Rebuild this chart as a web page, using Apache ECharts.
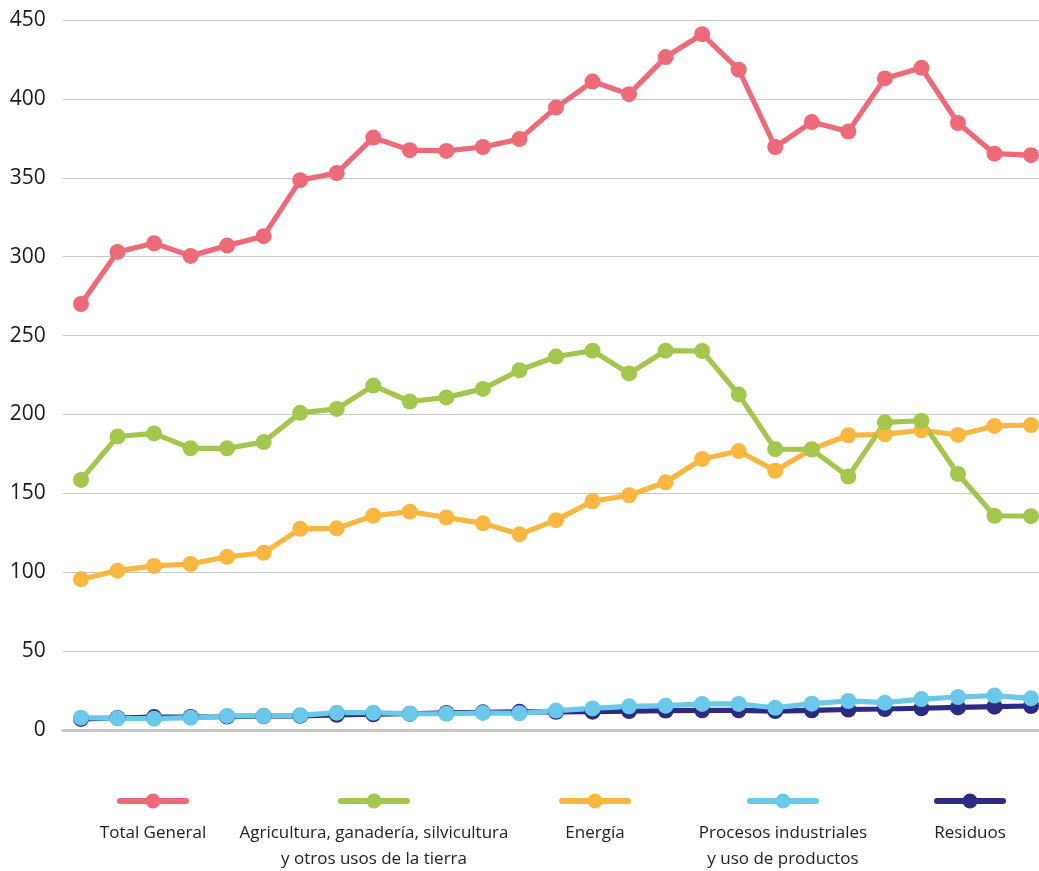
<!DOCTYPE html>
<html>
<head>
<meta charset="utf-8">
<script src="https://cdn.jsdelivr.net/npm/echarts@6/dist/echarts.min.js"></script>
<style>
html,body{margin:0;padding:0;background:#fff;overflow:hidden;}
#chart{width:1050px;height:871px;}
</style>
</head>
<body>
<div id="chart"></div>
<script>
const years = ['1990','1991','1992','1993','1994','1995','1996','1997','1998','1999','2000','2001','2002','2003','2004','2005','2006','2007','2008','2009','2010','2011','2012','2013','2014','2015','2016'];
const totalGeneral = [270, 303, 308.5, 300.5, 307, 313, 348.5, 353, 375.5, 367.5, 367, 369.5, 374.5, 394.5, 411, 403, 426.5, 441, 418.5, 369.5, 385.3, 379.3, 413, 419.7, 384.7, 365.3, 364.3];
const agricultura = [158.5, 186, 188, 178.5, 178.5, 182.5, 201, 203.5, 218.3, 208.2, 210.8, 216.2, 228, 236.7, 240.4, 226, 240.4, 240.2, 212.7, 178, 177.8, 160.6, 195, 196, 162.3, 135.8, 135.5];
const energia = [95.5, 101, 104, 105.2, 109.8, 112.3, 127.5, 127.8, 135.8, 138.4, 134.7, 131, 124, 133, 145, 148.8, 157, 171.8, 176.8, 164.3, 178, 186.8, 187.4, 190, 187, 192.7, 193.3];
const procesos = [7.8, 7.4, 7.2, 7.8, 8.9, 8.9, 9.3, 11, 11, 10.3, 10.3, 10.8, 10.6, 12.3, 13.7, 15, 15.4, 16.5, 16.5, 14.1, 16.7, 18.4, 17.3, 19.6, 20.9, 21.8, 20.1];
const residuos = [7, 7.6, 8.2, 8.3, 8.5, 8.8, 9, 9.6, 10, 10.3, 10.8, 11.2, 11.5, 11.5, 11.6, 12, 12.3, 12.5, 12.5, 12, 12.5, 13, 13.3, 13.8, 14.3, 14.8, 15.2];
const seriesNames = ['Total General', 'Agricultura, ganadería, silvicultura\ny otros usos de la tierra', 'Energía', 'Procesos industriales\ny uso de productos', 'Residuos'];
const seriesColors = ['#ed6a78', '#a3c64d', '#f9b641', '#6ac8ea', '#2e2a84'];
const seriesData = [totalGeneral, agricultura, energia, procesos, residuos];
const yTicks = [0, 50, 100, 150, 200, 250, 300, 350, 400, 450];

const chart = echarts.init(document.getElementById('chart'), null, {renderer: 'canvas'});

// draw order: Residuos bottom ... Total on top
const drawOrder = [4, 3, 2, 1, 0];
const series = drawOrder.map(i => ({
  name: seriesNames[i],
  type: 'line',
  data: seriesData[i],
  symbol: 'circle',
  symbolSize: 16,
  lineStyle: {width: 5.2, color: seriesColors[i]},
  itemStyle: {color: seriesColors[i]},
  emphasis: {disabled: true},
  animation: false
}));

const legendCenters = [153, 374, 595, 783, 970];
const graphics = [];
seriesNames.forEach((name, i) => {
  const cx = legendCenters[i];
  graphics.push({type: 'line', shape: {x1: cx - 33, y1: 801, x2: cx + 33, y2: 801}, style: {stroke: seriesColors[i], lineWidth: 6, lineCap: 'round'}});
  graphics.push({type: 'circle', shape: {cx: cx, cy: 801, r: 7.5}, style: {fill: seriesColors[i]}});
  graphics.push({type: 'text', x: cx, y: 820, style: {text: name, fill: '#222', font: '17px "Open Sans"', textAlign: 'center', textVerticalAlign: 'top', lineHeight: 26}});
});

chart.setOption({
  backgroundColor: '#fff',
  animation: false,
  grid: {left: 62.7, right: 0.7, top: 20, bottom: 141, containLabel: false},
  xAxis: {
    type: 'category',
    data: years,
    boundaryGap: true,
    axisLine: {show: true, lineStyle: {color: '#c6c6c6', width: 3}},
    axisTick: {show: false},
    axisLabel: {show: false},
    splitLine: {show: false}
  },
  yAxis: {
    type: 'value',
    min: yTicks[0],
    max: yTicks[yTicks.length - 1],
    interval: 50,
    axisLine: {show: false},
    axisTick: {show: false},
    axisLabel: {color: '#1a1a1a', fontSize: 21, fontFamily: 'Open Sans', margin: 17},
    splitLine: {show: true, lineStyle: {color: '#c8c8c8', width: 1}}
  },
  series: series,
  graphic: graphics
});
</script>
</body>
</html>
